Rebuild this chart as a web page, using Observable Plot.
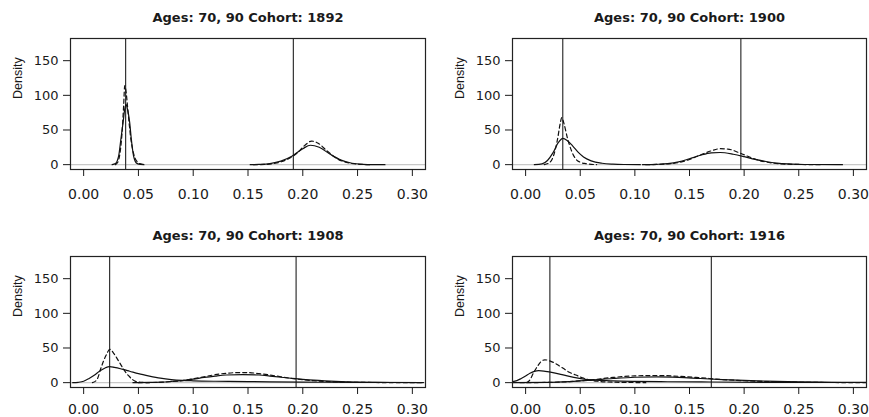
<!DOCTYPE html>
<html><head><meta charset="utf-8">
<script src="https://cdn.jsdelivr.net/npm/d3@7"></script>
<script src="https://cdn.jsdelivr.net/npm/@observablehq/plot@0.6"></script>
<style>
body{margin:0;background:#fff;}
#wrap{position:relative;width:869px;height:417px;overflow:hidden;background:#fff;}
.panel{position:absolute;}
</style></head><body><div id="wrap"></div>
<script>
const titlePrefix = "Ages: 70, 90 Cohort: ";
const yLabel = "Density";
const cohorts = ["1892", "1900", "1908", "1916"];
const xTicks = [0, 0.05, 0.10, 0.15, 0.20, 0.25, 0.30];
const yTicks = [0, 50, 100, 150];
const vLow = [0.0383, 0.034, 0.0237, 0.0222];
const vHigh = [0.1914, 0.197, 0.1939, 0.170];

// Cohort 1892
const c1892SolidLow = [[0.026,0],[0.029,1.5],[0.032,13],[0.034,37],[0.036,61],[0.0375,80],[0.0386,87],[0.040,80],[0.042,61],[0.0435,37],[0.0455,13],[0.047,5],[0.049,1.5],[0.052,0.3],[0.055,0]];
const c1892DashLow = [[0.029,0],[0.031,3],[0.033,15],[0.035,45],[0.0365,85],[0.0375,114],[0.0385,108],[0.040,85],[0.0415,60],[0.043,38],[0.045,20],[0.047,9],[0.049,4],[0.051,1.5],[0.054,0.4],[0.057,0]];
const c1892SolidHigh = [[0.152,0],[0.16,0.3],[0.17,1.5],[0.18,5],[0.19,12],[0.20,23],[0.207,28],[0.215,25],[0.225,15],[0.235,6.5],[0.245,2],[0.255,0.5],[0.265,0.1],[0.275,0]];
const c1892DashHigh = [[0.155,0],[0.165,0.3],[0.175,2],[0.185,7],[0.195,17],[0.202,28],[0.208,34],[0.214,31],[0.222,20],[0.232,8],[0.242,2.5],[0.252,0.5],[0.262,0]];

// Cohort 1900
const c1900SolidLow = [[0.008,0],[0.015,1],[0.02,6],[0.025,17],[0.03,32],[0.034,38],[0.038,35],[0.043,27],[0.048,18],[0.053,11],[0.06,5.5],[0.07,2],[0.08,0.7],[0.09,0.2],[0.105,0]];
const c1900DashLow = [[0.017,0],[0.022,3],[0.026,15],[0.029,35],[0.032,62],[0.033,68],[0.035,60],[0.038,40],[0.042,20],[0.046,8],[0.05,3.5],[0.055,1.5],[0.06,0.5],[0.065,0]];
const c1900SolidHigh = [[0.107,0],[0.12,0.5],[0.13,1.5],[0.14,4],[0.15,8.5],[0.16,13.5],[0.17,17],[0.178,17.5],[0.19,15],[0.20,11.5],[0.21,7.5],[0.22,4.5],[0.23,2.3],[0.24,1.1],[0.25,0.5],[0.26,0.2],[0.29,0]];
const c1900DashHigh = [[0.11,0],[0.13,1],[0.14,3],[0.15,7.5],[0.16,14],[0.17,20],[0.178,23],[0.185,22.5],[0.195,17.5],[0.205,11],[0.215,5.5],[0.225,2.5],[0.235,1],[0.25,0.3],[0.27,0]];

// Cohort 1908
const c1908SolidLow = [[-0.01,0],[-0.005,0.5],[0,2],[0.005,6],[0.01,11],[0.015,17],[0.02,21.5],[0.0235,23],[0.028,22],[0.035,19.5],[0.042,16.5],[0.05,13],[0.06,9.5],[0.07,6.5],[0.08,4.5],[0.09,3.3],[0.10,2.7],[0.12,2],[0.15,1.5],[0.2,0.8],[0.25,0.4],[0.31,0.2]];
const c1908DashLow = [[0.008,0],[0.012,4],[0.016,22],[0.020,38],[0.024,48],[0.028,41],[0.0335,27],[0.037,18],[0.041,10],[0.045,4],[0.049,1],[0.055,0.2],[0.06,0]];
const c1908SolidHigh = [[0.045,0],[0.06,0.3],[0.07,0.8],[0.08,1.8],[0.09,3],[0.10,5],[0.11,7.5],[0.12,9.5],[0.13,11],[0.145,11.5],[0.16,11],[0.17,9.5],[0.18,7.8],[0.19,6.3],[0.2,4.8],[0.21,3.5],[0.22,2.5],[0.23,1.7],[0.24,1.1],[0.26,0.5],[0.28,0.2],[0.31,0.05]];
const c1908DashHigh = [[0.05,0],[0.07,0.5],[0.08,1.5],[0.09,3],[0.10,5.5],[0.11,8.5],[0.12,11.5],[0.13,13.5],[0.14,14.5],[0.15,14.5],[0.16,13],[0.17,11],[0.18,8.5],[0.19,6],[0.2,4.2],[0.21,2.8],[0.22,1.8],[0.23,1.1],[0.25,0.4],[0.28,0.1],[0.31,0]];

// Cohort 1916
const c1916SolidLow = [[-0.012,1.5],[-0.008,3],[-0.004,6],[0,9.5],[0.004,13.5],[0.008,16.3],[0.012,17.3],[0.018,16.3],[0.025,14.5],[0.032,12],[0.04,9],[0.048,6.5],[0.055,4.8],[0.065,3.5],[0.08,2.5],[0.10,1.8],[0.13,1.3],[0.17,0.9],[0.22,0.5],[0.27,0.3],[0.312,0.2]];
const c1916DashLow = [[0.001,0],[0.004,4],[0.007,13.5],[0.011,24],[0.0145,31],[0.0176,33],[0.022,31.5],[0.028,27],[0.034,21],[0.040,15],[0.046,11],[0.052,7],[0.058,4],[0.066,2],[0.075,1],[0.09,0.4],[0.11,0]];
const c1916SolidHigh = [[-0.012,0],[0.02,0.3],[0.04,1.5],[0.06,3.5],[0.08,6],[0.10,7.8],[0.12,8.3],[0.14,7.6],[0.16,6],[0.18,4.5],[0.2,3.2],[0.22,2.2],[0.25,1.2],[0.28,0.6],[0.312,0.3]];
const c1916DashHigh = [[-0.005,0],[0.02,0.3],[0.04,1.5],[0.06,4],[0.08,7.5],[0.10,9.8],[0.12,10.3],[0.14,9.2],[0.16,7],[0.18,4.5],[0.2,2.8],[0.22,1.6],[0.25,0.6],[0.28,0.2],[0.312,0.1]];

const panelCurves = [
  [[c1892SolidLow,false],[c1892DashLow,true],[c1892SolidHigh,false],[c1892DashHigh,true]],
  [[c1900SolidLow,false],[c1900DashLow,true],[c1900SolidHigh,false],[c1900DashHigh,true]],
  [[c1908SolidLow,false],[c1908DashLow,true],[c1908SolidHigh,false],[c1908DashHigh,true]],
  [[c1916SolidLow,false],[c1916DashLow,true],[c1916SolidHigh,false],[c1916DashHigh,true]]
];

const layout = [
  {left:0,   top:0,   width:435, height:210, mL:70, mR:10, mT:38, mB:41, pad:13},
  {left:435, top:0,   width:434, height:210, mL:77, mR:3,  mT:38, mB:41, pad:13},
  {left:0,   top:207, width:435, height:210, mL:70, mR:10, mT:49, mB:30, pad:10},
  {left:435, top:207, width:434, height:210, mL:77, mR:3,  mT:49, mB:30, pad:10}
];

const wrap = document.getElementById("wrap");
layout.forEach((p, i) => {
  const lines = panelCurves[i].map(([data, dashed]) =>
    Plot.line(data, {x: d => d[0], y: d => d[1], stroke: "#111", strokeWidth: 1.2,
      curve: "monotone-x", clip: true, ...(dashed ? {strokeDasharray: "4,3"} : {})}));
  const chart = Plot.plot({
    width: p.width, height: p.height,
    marginLeft: p.mL, marginRight: p.mR, marginTop: p.mT, marginBottom: p.mB,
    x: {domain: [-0.012, 0.312]},
    y: {domain: [-7, 182]},
    style: {fontFamily: "DejaVu Sans", fontSize: "14px", color: "#1a1a1a", background: "white", overflow: "visible"},
    marks: [
      Plot.ruleY([0], {stroke: "#c8c8c8", strokeWidth: 1.2}),
      Plot.ruleX([vLow[i], vHigh[i]], {stroke: "#333", strokeWidth: 1.2}),
      ...lines,
      Plot.frame({stroke: "#222", strokeWidth: 1.2}),
      Plot.axisX({ticks: xTicks, tickFormat: d3.format(".2f"), tickSize: 7, tickPadding: p.pad, label: null, fontSize: 14}),
      Plot.axisY({ticks: yTicks, tickSize: 7, tickPadding: 5, label: null, fontSize: 13}),
      Plot.text([titlePrefix + cohorts[i]], {text: d => d, frameAnchor: "top", dy: -21, lineAnchor: "middle", fontWeight: "bold", fontSize: 13}),
      Plot.text([yLabel], {text: d => d, frameAnchor: "left", dx: -53, dy: -5, rotate: -90, lineAnchor: "middle", fontSize: 12.5, fontFamily: "Liberation Sans"})
    ]
  });
  chart.classList.add("panel");
  chart.style.left = p.left + "px";
  chart.style.top = p.top + "px";
  wrap.appendChild(chart);
});
</script></body></html>
